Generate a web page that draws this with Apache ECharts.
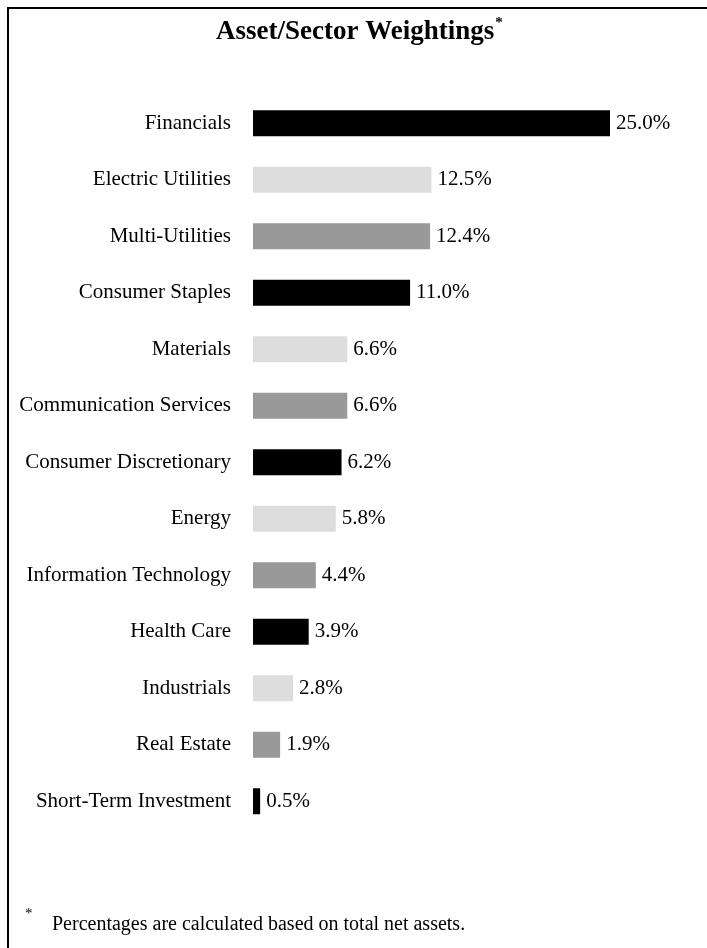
<!DOCTYPE html>
<html>
<head>
<meta charset="utf-8">
<script src="https://cdn.jsdelivr.net/npm/echarts@6/dist/echarts.min.js"></script>
<style>
html,body{margin:0;padding:0;background:#fff;}
#chart{width:707px;height:948px;}
</style>
</head>
<body>
<div id="chart"></div>
<script>
const categories = ["Financials","Electric Utilities","Multi-Utilities","Consumer Staples","Materials","Communication Services","Consumer Discretionary","Energy","Information Technology","Health Care","Industrials","Real Estate","Short-Term Investment"];
const values = [25.0,12.5,12.4,11.0,6.6,6.6,6.2,5.8,4.4,3.9,2.8,1.9,0.5];
const barColors = ["#000000","#dddddd","#999999"];
const titleText = "Asset/Sector Weightings";
const footnote = "Percentages are calculated based on total net assets.";

const chart = echarts.init(document.getElementById('chart'), null, {renderer:'canvas'});
const font = "'Liberation Serif', 'Times New Roman', serif";
chart.setOption({
  animation:false,
  backgroundColor:'#ffffff',
  title:{
    text:'{t|' + titleText + '}{s|*}',
    left:216, top:16, padding:0,
    textStyle:{
      rich:{
        t:{fontFamily:font,fontWeight:'bold',fontSize:27,color:'#000',verticalAlign:'bottom',lineHeight:30},
        s:{fontFamily:font,fontWeight:'bold',fontSize:15,color:'#000',verticalAlign:'top',lineHeight:30,padding:[0,0,14,1]}
      }
    }
  },
  grid:{left:253,right:97,top:95,height:734.5,containLabel:false},
  xAxis:{type:'value',min:0,max:25,show:false},
  yAxis:{
    type:'category',data:categories,inverse:true,
    axisLine:{show:false},axisTick:{show:false},
    axisLabel:{fontFamily:font,fontSize:21,color:'#000',margin:22,padding:[3,0,0,0]}
  },
  series:[{
    type:'bar',
    data:values.map((v,i)=>({value:v,itemStyle:{color:barColors[i%3]}})),
    barWidth:26,
    label:{show:true,position:'right',distance:6,fontFamily:font,fontSize:21,color:'#000',padding:[3,0,0,0],
      formatter:p=>p.value.toFixed(1)+'%'}
  }],
  graphic:[
    {type:'polyline',shape:{points:[[8,960],[8,8],[720,8]]},style:{stroke:'#000',lineWidth:2,fill:null}},
    {type:'text',left:25,top:907,style:{text:'*',font:'15px '+font,fill:'#000'}},
    {type:'text',left:52,top:915,style:{text:footnote,font:'20px '+font,fill:'#000'}}
  ]
});
</script>
</body>
</html>
